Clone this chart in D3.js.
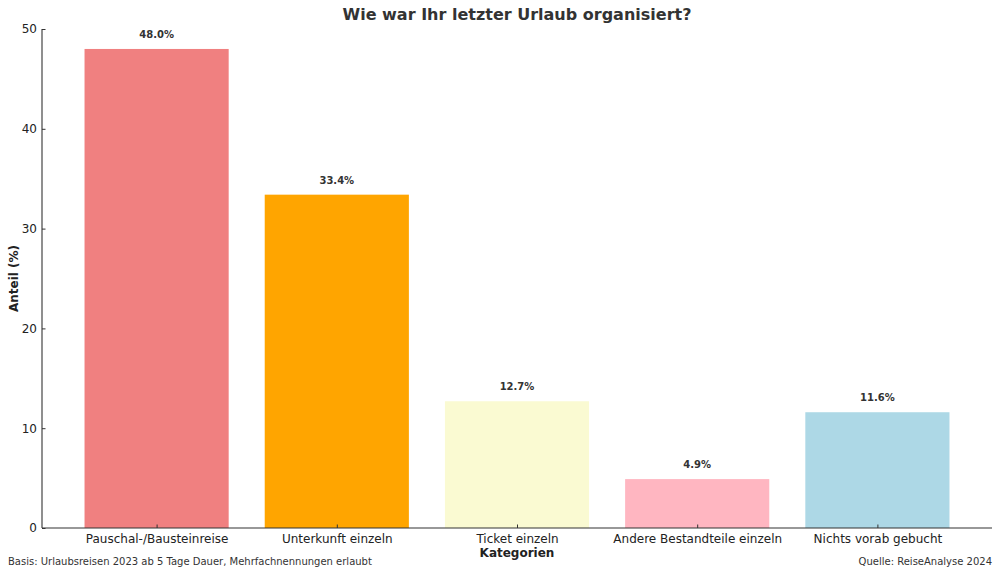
<!DOCTYPE html>
<html><head><meta charset="utf-8">
<script src="https://cdn.jsdelivr.net/npm/d3@7"></script>
<style>
body{margin:0;background:#fff;}
text{font-family:"DejaVu Sans",sans-serif;}
</style></head>
<body><svg id="c" width="1000" height="574"></svg>
<script>
const categories = ["Pauschal-/Bausteinreise","Unterkunft einzeln","Ticket einzeln","Andere Bestandteile einzeln","Nichts vorab gebucht"];
const values = [48.0, 33.4, 12.7, 4.9, 11.6];
const colors = ["#F08080","#FFA500","#FAFAD2","#FFB6C1","#ADD8E6"];
const yTicks = [0,10,20,30,40,50];

const svg = d3.select("#c");
const L = 42, R = 992, T = 29, B = 528;
const x = d3.scaleLinear().domain([-0.636, 4.636]).range([L, R]);
const y = d3.scaleLinear().domain([0, 50]).range([B, T]);
const bw = x(0.4) - x(-0.4);

svg.append("g").selectAll("rect").data(values).join("rect")
  .attr("x", (d,i) => x(i) - bw/2)
  .attr("y", d => y(d))
  .attr("width", bw)
  .attr("height", d => y(0) - y(d))
  .attr("fill", (d,i) => colors[i]);

svg.append("g").selectAll("text").data(values).join("text")
  .attr("x", (d,i) => x(i))
  .attr("y", d => y(d) - 11)
  .attr("text-anchor", "middle")
  .attr("font-size", 10).attr("font-weight", "bold").attr("fill", "#333")
  .text(d => d.toFixed(1) + "%");

// y axis
const ya = svg.append("g").attr("transform", `translate(${L},0)`)
  .call(d3.axisLeft(y).tickValues(yTicks).tickSize(-3.5).tickPadding(5).tickFormat(d3.format("d")));
ya.select(".domain").attr("stroke", "#333").attr("stroke-width", 1.1).attr("d", `M0,${B}V${T}`);
ya.selectAll(".tick line").attr("stroke", "#333");
ya.selectAll(".tick text").attr("font-size", 12).attr("fill", "#222").attr("font-family", "DejaVu Sans");

// x axis
const xa = svg.append("g").attr("transform", `translate(0,${B})`)
  .call(d3.axisBottom(x).tickValues(d3.range(categories.length)).tickSize(-3.5).tickPadding(6).tickFormat(i => categories[i]));
xa.select(".domain").attr("stroke", "#333").attr("stroke-width", 1.1).attr("d", `M${L},0H${R}`);
xa.selectAll(".tick line").attr("stroke", "#333");
xa.selectAll(".tick text").attr("font-size", 12).attr("fill", "#222").attr("font-family", "DejaVu Sans");

svg.append("text").attr("x", (L+R)/2).attr("y", 20).attr("text-anchor", "middle")
  .attr("font-size", 16).attr("font-weight", "bold").attr("fill", "#333")
  .text("Wie war Ihr letzter Urlaub organisiert?");

svg.append("text").attr("x", (L+R)/2).attr("y", 557).attr("text-anchor", "middle")
  .attr("font-size", 12).attr("font-weight", "bold").attr("fill", "#222")
  .text("Kategorien");

svg.append("text").attr("transform", `translate(18,${(T+B)/2}) rotate(-90)`).attr("text-anchor", "middle")
  .attr("font-size", 12).attr("font-weight", "bold").attr("fill", "#222")
  .text("Anteil (%)");

svg.append("text").attr("x", 8).attr("y", 565).attr("font-size", 10).attr("fill", "#333")
  .text("Basis: Urlaubsreisen 2023 ab 5 Tage Dauer, Mehrfachnennungen erlaubt");
svg.append("text").attr("x", 992).attr("y", 565).attr("text-anchor", "end").attr("font-size", 10).attr("fill", "#333")
  .text("Quelle: ReiseAnalyse 2024");
</script></body></html>
